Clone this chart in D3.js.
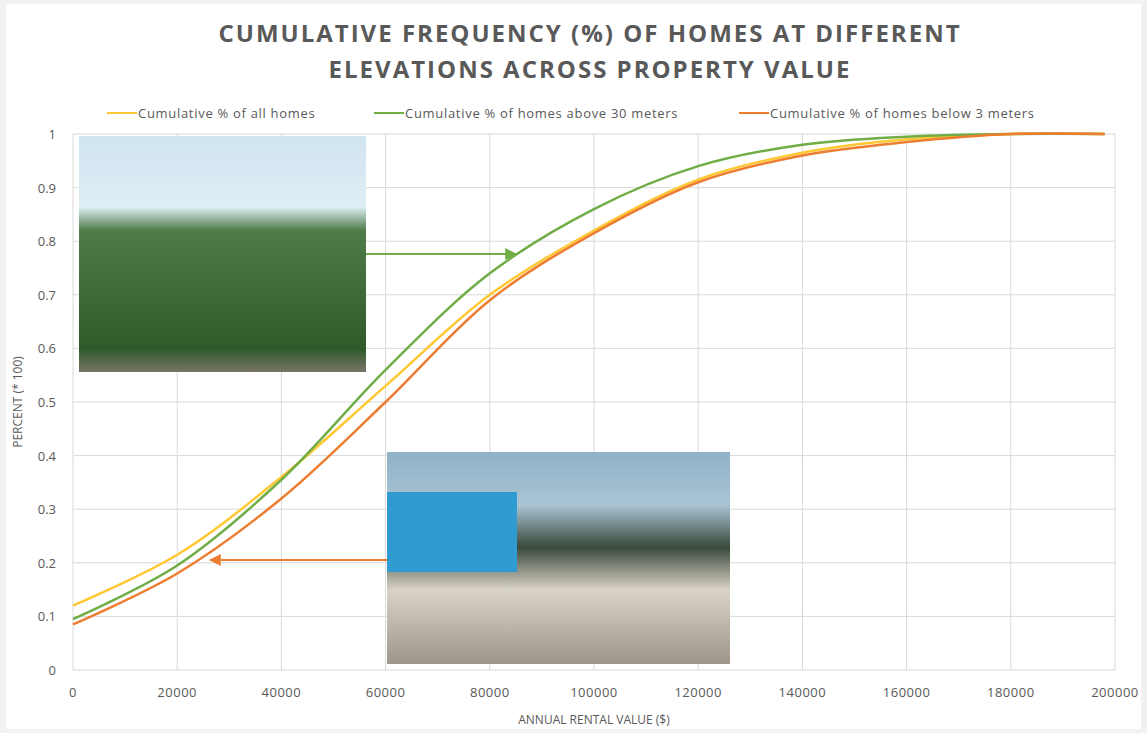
<!DOCTYPE html>
<html><head><meta charset="utf-8">
<script src="https://cdn.jsdelivr.net/npm/d3@7"></script>
<style>body{margin:0;background:#f2f2f2;font-family:"Open Sans",sans-serif}</style>
</head><body>
<svg id="c" width="1147" height="733"></svg>
<script>
const xs = [0, 20000, 40000, 60000, 80000, 100000, 120000, 140000, 160000, 180000, 198000]
const allHomes = [0.12, 0.215, 0.36, 0.53, 0.70, 0.82, 0.915, 0.965, 0.99, 1.0, 1.0]
const above30 = [0.095, 0.195, 0.355, 0.56, 0.74, 0.86, 0.94, 0.98, 0.995, 1.0, 1.0]
const below3 = [0.085, 0.18, 0.32, 0.50, 0.69, 0.815, 0.91, 0.96, 0.985, 1.0, 1.0]
const xTicks = d3.range(0, 200001, 20000)
const yTicks = d3.range(0, 1.01, 0.1)
const series = [
  { name: 'Cumulative % of all homes', values: allHomes, color: '#ffc832' },
  { name: 'Cumulative % of homes above 30 meters', values: above30, color: '#70ad47' },
  { name: 'Cumulative % of homes below 3 meters', values: below3, color: '#ed7d31' }
]

const svg = d3.select('#c')
svg.append('rect').attr('x', 6).attr('y', 4).attr('width', 1135).attr('height', 725).attr('fill', '#fff')

const x = d3.scaleLinear().domain([0, 200000]).range([73, 1115])
const y = d3.scaleLinear().domain([0, 1]).range([670, 134])

svg.append('g').selectAll('line').data(xTicks).enter().append('line')
  .attr('x1', d => x(d)).attr('x2', d => x(d)).attr('y1', y(0)).attr('y2', y(1))
  .attr('stroke', '#d9d9d9')
svg.append('g').selectAll('line').data(yTicks).enter().append('line')
  .attr('x1', x(0)).attr('x2', x(200000)).attr('y1', d => y(d)).attr('y2', d => y(d))
  .attr('stroke', '#d9d9d9')

svg.append('g').selectAll('text').data(xTicks).enter().append('text')
  .attr('x', d => x(d)).attr('y', 697).attr('text-anchor', 'middle')
  .attr('font-size', 13).attr('fill', '#595959').attr('letter-spacing', 0.5).text(d => d)
svg.append('g').selectAll('text').data(yTicks).enter().append('text')
  .attr('x', 56).attr('y', d => y(d) + 5).attr('text-anchor', 'end')
  .attr('font-size', 13).attr('fill', '#595959').text(d => +d.toFixed(1))

svg.append('text').attr('x', 594).attr('y', 724).attr('text-anchor', 'middle')
  .attr('font-size', 12).attr('fill', '#595959').text('ANNUAL RENTAL VALUE ($)')
svg.append('text').attr('transform', 'translate(22,402) rotate(-90)').attr('text-anchor', 'middle')
  .attr('font-size', 12).attr('fill', '#595959').text('PERCENT (* 100)')

svg.append('text').attr('x', 590).attr('y', 42).attr('text-anchor', 'middle')
  .attr('font-size', 24).attr('font-weight', 'bold').attr('fill', '#595959').attr('letter-spacing', 2)
  .text('CUMULATIVE FREQUENCY (%) OF HOMES AT DIFFERENT')
svg.append('text').attr('x', 590).attr('y', 78).attr('text-anchor', 'middle')
  .attr('font-size', 24).attr('font-weight', 'bold').attr('fill', '#595959').attr('letter-spacing', 2)
  .text('ELEVATIONS ACROSS PROPERTY VALUE')

// legend
const lx = [107, 374, 739]
series.forEach((s, i) => {
  svg.append('line').attr('x1', lx[i]).attr('x2', lx[i] + 30).attr('y1', 113).attr('y2', 113)
    .attr('stroke', s.color).attr('stroke-width', 2)
  svg.append('text').attr('x', lx[i] + 31).attr('y', 118).attr('font-size', 13)
    .attr('letter-spacing', 0.7).attr('fill', '#595959').text(s.name)
})

const line = d3.line().x((d, i) => x(xs[i])).y(d => y(d)).curve(d3.curveCatmullRom)
series.forEach(s => {
  svg.append('path').datum(s.values).attr('d', line).attr('fill', 'none')
    .attr('stroke', s.color).attr('stroke-width', 2.5)
})

// photo placeholders
const defs = svg.append('defs')
const g1 = defs.append('linearGradient').attr('id', 'p1').attr('x2', 0).attr('y2', 1)
g1.append('stop').attr('offset', '0').attr('stop-color', '#cfe3f0')
g1.append('stop').attr('offset', '0.3').attr('stop-color', '#dfeef5')
g1.append('stop').attr('offset', '0.4').attr('stop-color', '#4f7d4a')
g1.append('stop').attr('offset', '0.9').attr('stop-color', '#2f5a2a')
g1.append('stop').attr('offset', '1').attr('stop-color', '#7a7468')
const g2 = defs.append('linearGradient').attr('id', 'p2').attr('x2', 0).attr('y2', 1)
g2.append('stop').attr('offset', '0').attr('stop-color', '#8fb2c8')
g2.append('stop').attr('offset', '0.25').attr('stop-color', '#a9c4d4')
g2.append('stop').attr('offset', '0.45').attr('stop-color', '#3a4a3a')
g2.append('stop').attr('offset', '0.65').attr('stop-color', '#d8d2c8')
g2.append('stop').attr('offset', '1').attr('stop-color', '#9e968a')
svg.append('rect').attr('x', 79).attr('y', 136).attr('width', 287).attr('height', 236).attr('fill', 'url(#p1)')
svg.append('rect').attr('x', 387).attr('y', 452).attr('width', 343).attr('height', 212).attr('fill', 'url(#p2)')
svg.append('rect').attr('x', 387).attr('y', 492).attr('width', 130).attr('height', 80).attr('fill', '#2f9bd0')

defs.append('marker').attr('id', 'ag').attr('viewBox', '0 0 10 10').attr('refX', 9).attr('refY', 5)
  .attr('markerWidth', 6).attr('markerHeight', 6).attr('orient', 'auto')
  .append('path').attr('d', 'M0,0L10,5L0,10z').attr('fill', '#70ad47')
defs.append('marker').attr('id', 'ao').attr('viewBox', '0 0 10 10').attr('refX', 9).attr('refY', 5)
  .attr('markerWidth', 6).attr('markerHeight', 6).attr('orient', 'auto')
  .append('path').attr('d', 'M0,0L10,5L0,10z').attr('fill', '#ed7d31')
svg.append('line').attr('x1', 366).attr('x2', 516).attr('y1', 254).attr('y2', 254)
  .attr('stroke', '#70ad47').attr('stroke-width', 2).attr('marker-end', 'url(#ag)')
svg.append('line').attr('x1', 387).attr('x2', 210).attr('y1', 560).attr('y2', 560)
  .attr('stroke', '#ed7d31').attr('stroke-width', 2).attr('marker-end', 'url(#ao)')
</script>
</body></html>
